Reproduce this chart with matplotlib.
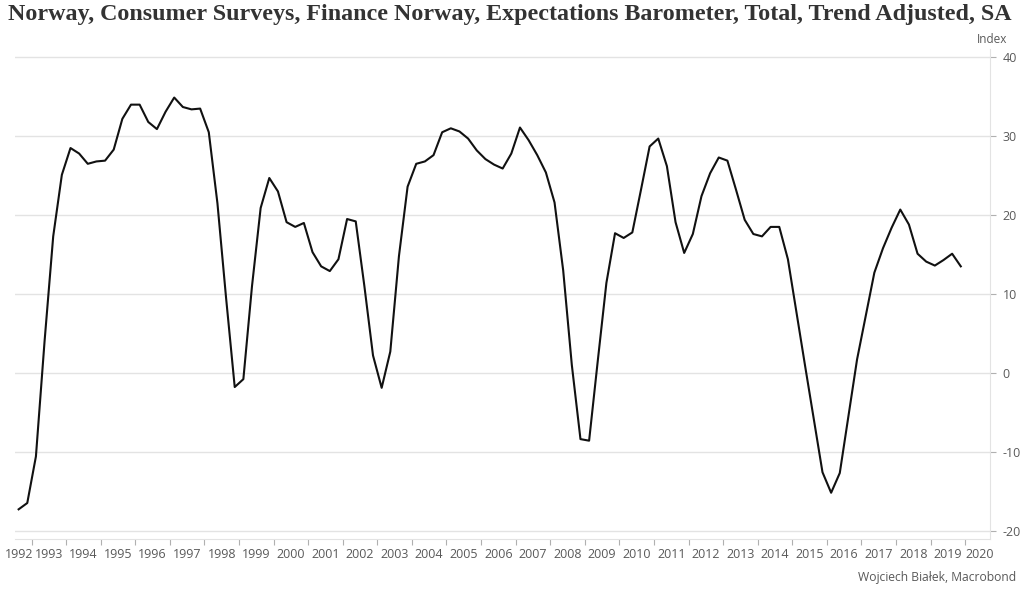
"""Finance Norway Expectations Barometer (total, trend adjusted, SA), quarterly."""
import matplotlib
matplotlib.use("Agg")
import matplotlib.pyplot as plt
import pandas as pd

TITLE = ("Norway, Consumer Surveys, Finance Norway, Expectations Barometer, "
         "Total, Trend Adjusted, SA")
SOURCE = "Wojciech Białek, Macrobond"

FIRST_QUARTER = "1992Q3"
LAST_QUARTER = "2019Q4"

# index values, one per quarter
barometer = [
    -17.3, -16.5, -10.6, 4.0, 17.3, 25.1, 28.5, 27.8, 26.5, 26.8,
    26.9, 28.3, 32.2, 34.0, 34.0, 31.8, 30.9, 33.1, 34.9, 33.7,
    33.4, 33.5, 30.5, 21.5, 9.5, -1.8, -0.8, 11.0, 20.9, 24.7,
    23.0, 19.1, 18.5, 19.0, 15.3, 13.5, 12.9, 14.4, 19.5, 19.2,
    11.0, 2.2, -1.9, 2.7, 14.8, 23.6, 26.5, 26.8, 27.6, 30.5,
    31.0, 30.6, 29.7, 28.2, 27.1, 26.4, 25.9, 27.8, 31.1, 29.5,
    27.6, 25.4, 21.6, 13.0, 1.0, -8.4, -8.6, 1.5, 11.4, 17.7,
    17.1, 17.8, 23.2, 28.7, 29.7, 26.2, 19.1, 15.2, 17.6, 22.4,
    25.3, 27.3, 26.9, 23.2, 19.4, 17.6, 17.3, 18.5, 18.5, 14.4,
    7.6, 0.8, -5.9, -12.6, -15.2, -12.7, -5.5, 1.7, 7.2, 12.7,
    15.8, 18.4, 20.7, 18.8, 15.1, 14.1, 13.6, 14.3, 15.1, 13.5,
]

year_labels = list(range(1992, 2021))
y_ticks = [-20, -10, 0, 10, 20, 30, 40]

GRID = "#e3e3e3"
TEXT = "#595959"


def main() -> None:
    quarters = pd.period_range(FIRST_QUARTER, LAST_QUARTER, freq="Q")
    # mid-quarter position as a fractional year
    x = [q.year + (q.quarter - 1) / 4 + 0.125 for q in quarters]

    plt.rcParams["font.family"] = ["Open Sans", "DejaVu Sans"]
    fig = plt.figure(figsize=(10.24, 5.94), dpi=100)
    ax = fig.add_axes([15 / 1024, 0.0921, 975 / 1024, 0.8247])

    ax.plot(x, barometer, color="#111111", linewidth=1.5)

    xmin, xmax = 1992.52, 2020.72
    ax.set_xlim(xmin, xmax)
    ax.set_ylim(-21.1, 41)

    ax.yaxis.tick_right()
    ax.set_yticks(y_ticks)
    ax.set_yticklabels([str(v) for v in y_ticks])
    ax.grid(axis="y", color=GRID, linewidth=1)
    ax.set_axisbelow(True)

    # year boundaries get tick marks, labels sit in the middle of each year
    ax.set_xticks([y for y in year_labels if xmin < y < xmax])
    ax.set_xticklabels([])
    label_pos = [min(max(y + 0.5, xmin + 0.12), xmax - 0.3) for y in year_labels]
    ax.set_xticks(label_pos, minor=True)
    ax.set_xticklabels([str(y) for y in year_labels], minor=True)
    ax.tick_params(axis="x", which="major", length=4, color="#b0b0b0",
                   width=0.8)
    ax.tick_params(axis="x", which="minor", length=0, pad=6,
                   labelsize=9, labelcolor=TEXT)
    ax.tick_params(axis="y", length=4, color="#b0b0b0", width=0.8,
                   labelsize=9, labelcolor=TEXT, pad=5)

    for side in ("top", "left"):
        ax.spines[side].set_visible(False)
    ax.spines["bottom"].set_color(GRID)
    ax.spines["right"].set_color(GRID)

    fig.text(0.008, 0.975, TITLE, family="Liberation Serif", weight="bold",
             fontsize=17.3, color="#333333", va="center", ha="left")
    fig.text(0.984, 0.933, "Index", fontsize=8.5, color=TEXT,
             ha="right", va="center")
    fig.text(0.992, 0.028, SOURCE, fontsize=8.7, color=TEXT,
             ha="right", va="center")

    fig.savefig("out.png", dpi=100)
    plt.close(fig)


if __name__ == "__main__":
    main()
